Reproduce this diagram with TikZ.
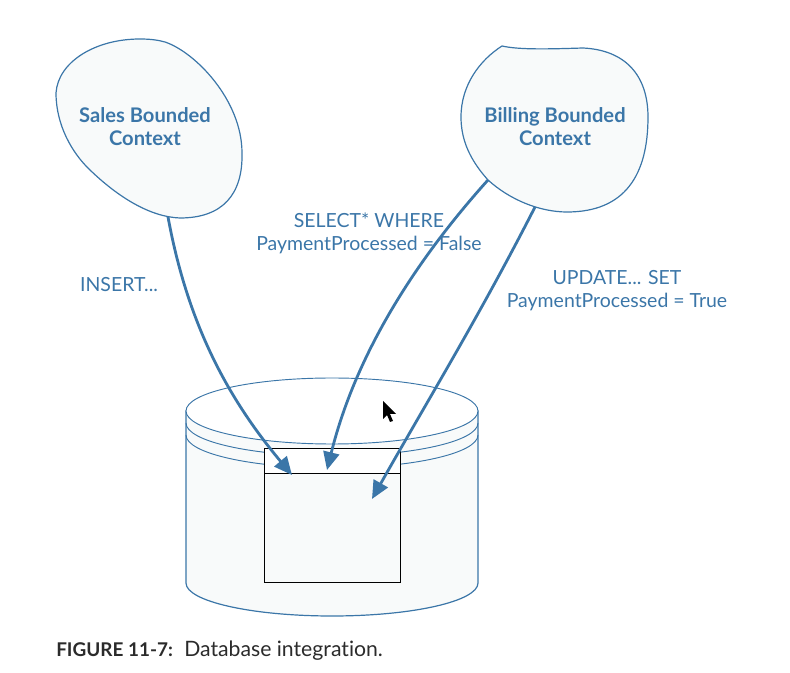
\documentclass[tikz,border=0pt]{standalone}
\usepackage{fontspec}
\setmainfont{Lato}[Ligatures=NoCommon]
\usetikzlibrary{arrows.meta}
\definecolor{ctxblue}{HTML}{3B76A8}
\definecolor{paleface}{HTML}{F8FAFA}
\definecolor{capgray}{HTML}{2B2B2B}
\tikzset{
  outline/.style={draw=ctxblue,line width=0.9pt,fill=paleface},
  rimline/.style={draw=ctxblue,line width=0.7pt},
  tableline/.style={draw=black,line width=0.75pt,outer sep=0pt,inner sep=0pt},
  flow/.style={draw=ctxblue,line width=2.1pt,-{Triangle[length=13.5pt,width=12pt]}},
  label/.style={text=ctxblue,align=center,font=\fontsize{14.6}{17.25}\selectfont,inner sep=0pt},
  ctxlabel/.style={text=ctxblue,align=center,font=\fontsize{15.1}{17.25}\selectfont\bfseries,inner sep=0pt}
}
\begin{document}
\begin{tikzpicture}[x=0.75pt,y=-0.75pt]
\useasboundingbox (0,0) rectangle (790,673);
% database cylinder
\path[outline] (186,411) -- (186,583) arc[start angle=180,end angle=0,x radius=146,y radius=33] -- (478,411) -- cycle;
\path[draw=ctxblue,line width=0.7pt,fill=white] (186,411) arc[start angle=180,end angle=0,x radius=146,y radius=33] arc[start angle=0,end angle=-180,x radius=146,y radius=33] -- cycle;
\draw[rimline] (186,423) arc[start angle=180,end angle=0,x radius=146,y radius=33];
\draw[rimline] (186,435) arc[start angle=180,end angle=0,x radius=146,y radius=33];
% table
\node[tableline,fill=white,minimum width=102.2pt,minimum height=18.75pt,anchor=north west] (tablehead) at (264.5,449) {};
\node[tableline,fill=paleface,minimum width=102.2pt,minimum height=81.75pt,anchor=north] (tablebody) at (tablehead.south) {};
% bounded contexts
\path[outline] (56,93) .. controls (58,62) and (95,39) .. (140,39)
  .. controls (150,39) and (158,40) .. (165,42)
  .. controls (195,52) and (242,100) .. (242,153)
  .. controls (243,195) and (222,218) .. (180,218)
  .. controls (150,217) and (118,197) .. (90,170)
  .. controls (72,153) and (56,125) .. (56,93) -- cycle;
\path[outline] (502,46) .. controls (520,50) and (550,49) .. (583,48)
  .. controls (625,50) and (648,75) .. (648,117)
  .. controls (648,175) and (625,212) .. (567,212)
  .. controls (540,212) and (510,200) .. (488,180)
  .. controls (470,160) and (461,140) .. (461,117)
  .. controls (461,85) and (480,60) .. (502,46) -- cycle;
\node[ctxlabel] (sales) at (145,126.5) {Sales Bounded\\Context};
\node[ctxlabel] (billing) at (555,126.5) {Billing Bounded\\Context};
% connector ends
\coordinate (salesOut) at (168,217);
\coordinate (billingOutA) at (488,180);
\coordinate (billingOutB) at (535,207);
\coordinate (insertTip) at (292,475);
\coordinate (selectTip) at (327,470);
\coordinate (updateTip) at (372,499);
\draw[flow] (salesOut) .. controls (187,320) and (225,395) .. (insertTip);
\draw[flow] (billingOutA) .. controls (425,250) and (358,345) .. (selectTip);
\draw[flow] (billingOutB) .. controls (480,315) and (425,405) .. (updateTip);
% labels
\node[label] (insert) at (119,284.5) {INSERT...};
\node[label] (select) at (369,233) {SELECT* WHERE\\PaymentProcessed = False};
\node[label] (update) at (617,290.5) {UPDATE... SET\\PaymentProcessed = True};
\node[anchor=west,inner sep=0pt,text=capgray,font=\fontsize{14.2}{17}\selectfont] (caption) at (56,650.5) {\textbf{FIGURE 11-7:}\hspace{0.6em}{\fontsize{15.9}{17}\selectfont Database integration.}};
% pointer
\fill[black] (383,401) -- (383,419) -- (387,415) -- (390,422) -- (393,421) -- (390,414) -- (396,414) -- cycle;
\end{tikzpicture}
\end{document}
